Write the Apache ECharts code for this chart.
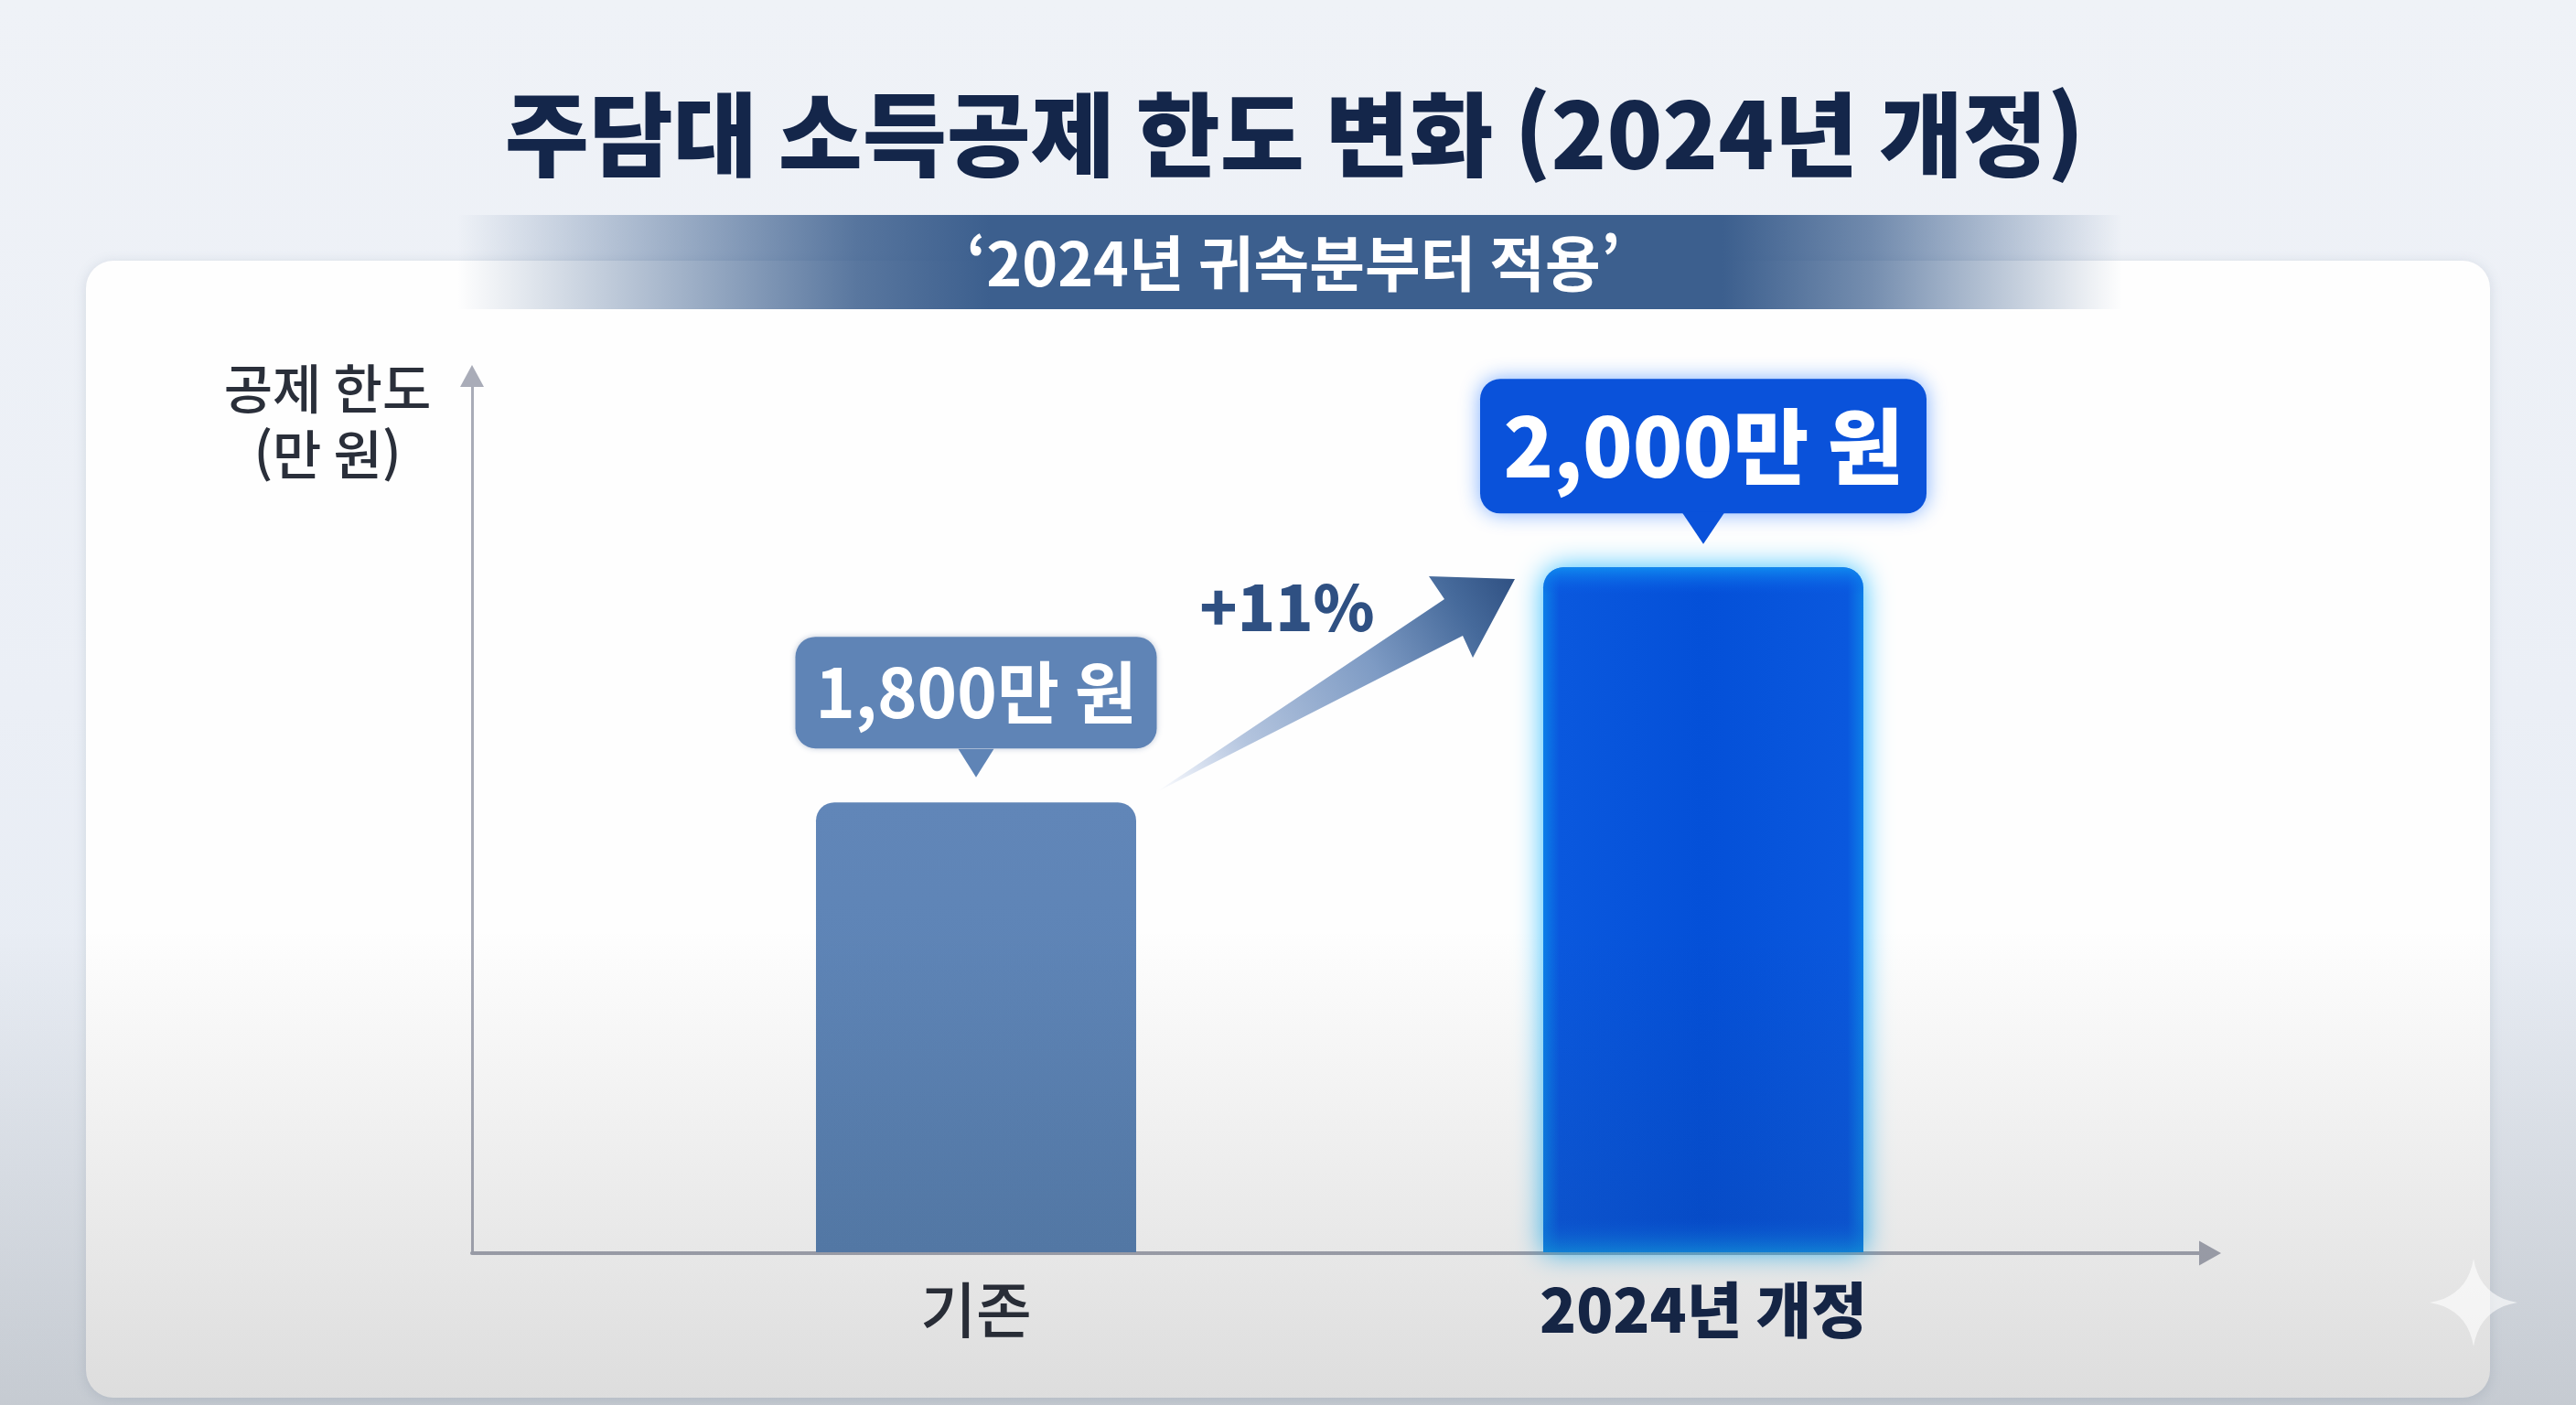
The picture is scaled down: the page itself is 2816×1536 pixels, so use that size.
<!DOCTYPE html>
<html lang="ko">
<head>
<meta charset="utf-8">
<title>주담대 소득공제 한도 변화</title>
<style>
html, body { margin: 0; padding: 0; background: #eef2f8; }
#main { width: 2816px; height: 1536px; }
</style>
<script src="https://cdn.jsdelivr.net/npm/echarts@6/dist/echarts.min.js"></script>
</head>
<body>
<div id="main"></div>
<script>
var categories = ['기존', '2024년 개정'];
var limits = [1800, 2000];
var titleText = '주담대 소득공제 한도 변화 (2024년 개정)';
var subtitleText = '‘2024년 귀속분부터 적용’';
var axisName = '공제 한도\n(만 원)';
var changeText = '+11%';

var FONT = '"Noto Sans CJK KR", "Noto Sans", sans-serif';
var NAVY = '#14264a';
var INK = '#2a2f3a';
var OLD_BLUE = '#5f84b6';
var NEW_BLUE = '#0a52da';

var myChart = echarts.init(document.getElementById('main'));

function money(v) {
    return v.toLocaleString('en-US') + '만 원';
}

// 오른쪽 아래 별 장식
function sparkle(cx, cy, r) {
    var pts = [];
    for (var i = 0; i < 4; i++) {
        var a = i * Math.PI / 2, b = a + Math.PI / 2, m = a + Math.PI / 4;
        for (var t = 0; t < 1; t += 0.1) {
            var u = 1 - t, k = 2 * u * t * r * 0.2;
            pts.push([
                cx + u * u * r * Math.cos(a) + k * Math.cos(m) + t * t * r * Math.cos(b),
                cy + u * u * r * Math.sin(a) + k * Math.sin(m) + t * t * r * Math.sin(b)
            ]);
        }
    }
    return pts;
}

var labelStyles = [
    { width: 395, height: 122, lineHeight: 122, fontSize: 74, backgroundColor: OLD_BLUE, shadowBlur: 6, shadowColor: 'rgba(60,90,140,.35)' },
    { width: 488, height: 147, lineHeight: 147, fontSize: 90, fontWeight: 800, backgroundColor: NEW_BLUE, shadowBlur: 22, shadowColor: 'rgba(20,110,255,.55)' }
];
var barStyles = [
    { borderRadius: [20, 20, 0, 0], color: new echarts.graphic.LinearGradient(0, 0, 0, 1, [
        { offset: 0, color: '#6186b8' }, { offset: 1, color: '#5881b3' }]) },
    { borderRadius: [22, 22, 0, 0], shadowBlur: 30, shadowColor: 'rgba(0,175,255,.8)', color: new echarts.graphic.LinearGradient(0, 0, 1, 0, [
        { offset: 0, color: '#0c7fe8' }, { offset: 0.05, color: '#0a58de' }, { offset: 0.5, color: '#0450d8' },
        { offset: 0.95, color: '#0a58de' }, { offset: 1, color: '#0c7fe8' }]) }
];
var pointerColors = [OLD_BLUE, NEW_BLUE];
var pointerSizes = [[39, 31], [47, 35]];

var option = {
    animation: false,
    backgroundColor: new echarts.graphic.LinearGradient(0, 0, 0, 1, [
        { offset: 0, color: '#eff2f7' }, { offset: 0.5, color: '#ebeff6' }, { offset: 1, color: '#e3e9f1' }]),
    title: [
        { text: titleText, left: 1410, top: 92, textAlign: 'center',
          textStyle: { fontFamily: FONT, fontSize: 100, fontWeight: 900, color: NAVY } },
        { text: subtitleText, left: 1409, top: 250, textAlign: 'center',
          textStyle: { fontFamily: FONT, fontSize: 66, fontWeight: 700, color: '#ffffff' } }
    ],
    grid: [
        { left: 669.5, width: 1590, top: 411, height: 958 },
        { left: 516, width: 1900, top: 411, height: 959 }
    ],
    xAxis: [
        { type: 'category', gridIndex: 0,
          data: [
              { value: categories[0], textStyle: { color: INK, fontWeight: 500 } },
              { value: categories[1], textStyle: { color: NAVY, fontWeight: 800 } }
          ],
          axisLine: { show: false }, axisTick: { show: false },
          axisLabel: { fontFamily: FONT, fontSize: 66, margin: 30 } },
        { type: 'value', gridIndex: 1, min: 0, max: 1, z: 2,
          axisLine: { lineStyle: { color: '#a5a8b4', width: 4 }, symbol: ['none', 'triangle'], symbolSize: [27, 24], symbolOffset: [0, 0] },
          axisTick: { show: false }, axisLabel: { show: false }, splitLine: { show: false } }
    ],
    yAxis: [
        { type: 'value', gridIndex: 0, min: 1417, max: 2163, show: false },
        { type: 'value', gridIndex: 1, min: 0, max: 1, z: 2,
          name: axisName, nameLocation: 'end', nameGap: 22,
          nameTextStyle: { fontFamily: FONT, fontSize: 58, lineHeight: 72, fontWeight: 500, color: INK, align: 'center', verticalAlign: 'top', padding: [0, 316, 0, 0] },
          axisLine: { show: true, lineStyle: { color: '#a9acb8', width: 3 }, symbol: ['none', 'triangle'], symbolSize: [26, 24] },
          axisTick: { show: false }, axisLabel: { show: false }, splitLine: { show: false } }
    ],
    series: [
        { type: 'bar', xAxisIndex: 0, yAxisIndex: 0, barWidth: 350, barGap: '-100%', z: 3,
          data: limits.map(function (v, i) {
              return { value: v, itemStyle: barStyles[i], label: labelStyles[i] };
          }),
          label: { show: true, position: 'top', distance: 59, fontFamily: FONT, fontWeight: 700, color: '#ffffff',
                   align: 'center', borderRadius: 22,
                   formatter: function (p) { return money(p.value); } } },
        // 파란 막대 위아래 밝은 테두리
        { type: 'bar', xAxisIndex: 0, yAxisIndex: 0, barWidth: 350, barGap: '-100%', z: 4, silent: true,
          data: limits.map(function (v, i) { return i === 1 ? v : '-'; }),
          itemStyle: { borderRadius: [22, 22, 0, 0], color: new echarts.graphic.LinearGradient(0, 0, 0, 1, [
              { offset: 0, color: 'rgba(16,140,240,.95)' }, { offset: 0.04, color: 'rgba(10,90,230,0)' },
              { offset: 0.95, color: 'rgba(10,90,230,0)' }, { offset: 1, color: 'rgba(16,150,235,.8)' }]) } },
        // 말풍선 꼬리
        { type: 'scatter', xAxisIndex: 0, yAxisIndex: 0, symbol: 'triangle', symbolRotate: 180, symbolOffset: [0, -43], z: 5, silent: true,
          data: limits.map(function (v, i) {
              return { value: [i, v], symbolSize: pointerSizes[i], itemStyle: { color: pointerColors[i], opacity: 1 } };
          }) }
    ],
    graphic: [
        { type: 'rect', z: 0, silent: true, shape: { x: 94, y: 285, width: 2628, height: 1243, r: 30 },
          style: { fill: '#fefefe', shadowBlur: 14, shadowColor: 'rgba(90,110,140,.18)', shadowOffsetY: 2 } },
        { type: 'rect', z: 1, silent: true, shape: { x: 500, y: 235, width: 1820, height: 103 },
          style: { fill: new echarts.graphic.LinearGradient(0, 0, 1, 0, [
              { offset: 0, color: 'rgba(60,95,142,0)' }, { offset: 0.24, color: 'rgba(60,95,142,.85)' }, { offset: 0.32, color: '#3c5f8e' },
              { offset: 0.76, color: '#3c5f8e' }, { offset: 0.85, color: 'rgba(60,95,142,.7)' }, { offset: 1, color: 'rgba(60,95,142,0)' }]) } },
        // 기존 -> 개정 화살표
        { type: 'polygon', z: 6, silent: true,
          shape: { points: [[1264, 866], [1579, 655], [1562, 630], [1656, 633], [1610, 719], [1599, 695]] },
          style: { fill: new echarts.graphic.LinearGradient(0, 1, 1, 0, [
              { offset: 0, color: 'rgba(170,190,225,0)' }, { offset: 0.25, color: '#b3c4de' }, { offset: 0.6, color: '#7e9bc4' },
              { offset: 0.85, color: '#466a9b' }, { offset: 1, color: '#2f5082' }]) } },
        { type: 'text', z: 6, silent: true, x: 1407, y: 664,
          style: { text: changeText, font: '800 68px ' + FONT, fill: '#2f5082', textAlign: 'center', textVerticalAlign: 'middle' } },
        // 하단 어두워지는 부분
        { type: 'rect', z: 100, silent: true, shape: { x: 0, y: 0, width: 2816, height: 1536 },
          style: { fill: new echarts.graphic.LinearGradient(0, 0, 0, 1, [
              { offset: 0, color: 'rgba(30,30,30,0)' }, { offset: 0.66, color: 'rgba(30,30,30,0)' }, { offset: 1, color: 'rgba(30,30,30,.15)' }]) } },
        { type: 'polygon', z: 101, silent: true,
          shape: { points: sparkle(2704, 1424, 48) },
          style: { fill: 'rgba(255,255,255,.6)' } }
    ]
};
myChart.setOption(option);
</script>
</body>
</html>
